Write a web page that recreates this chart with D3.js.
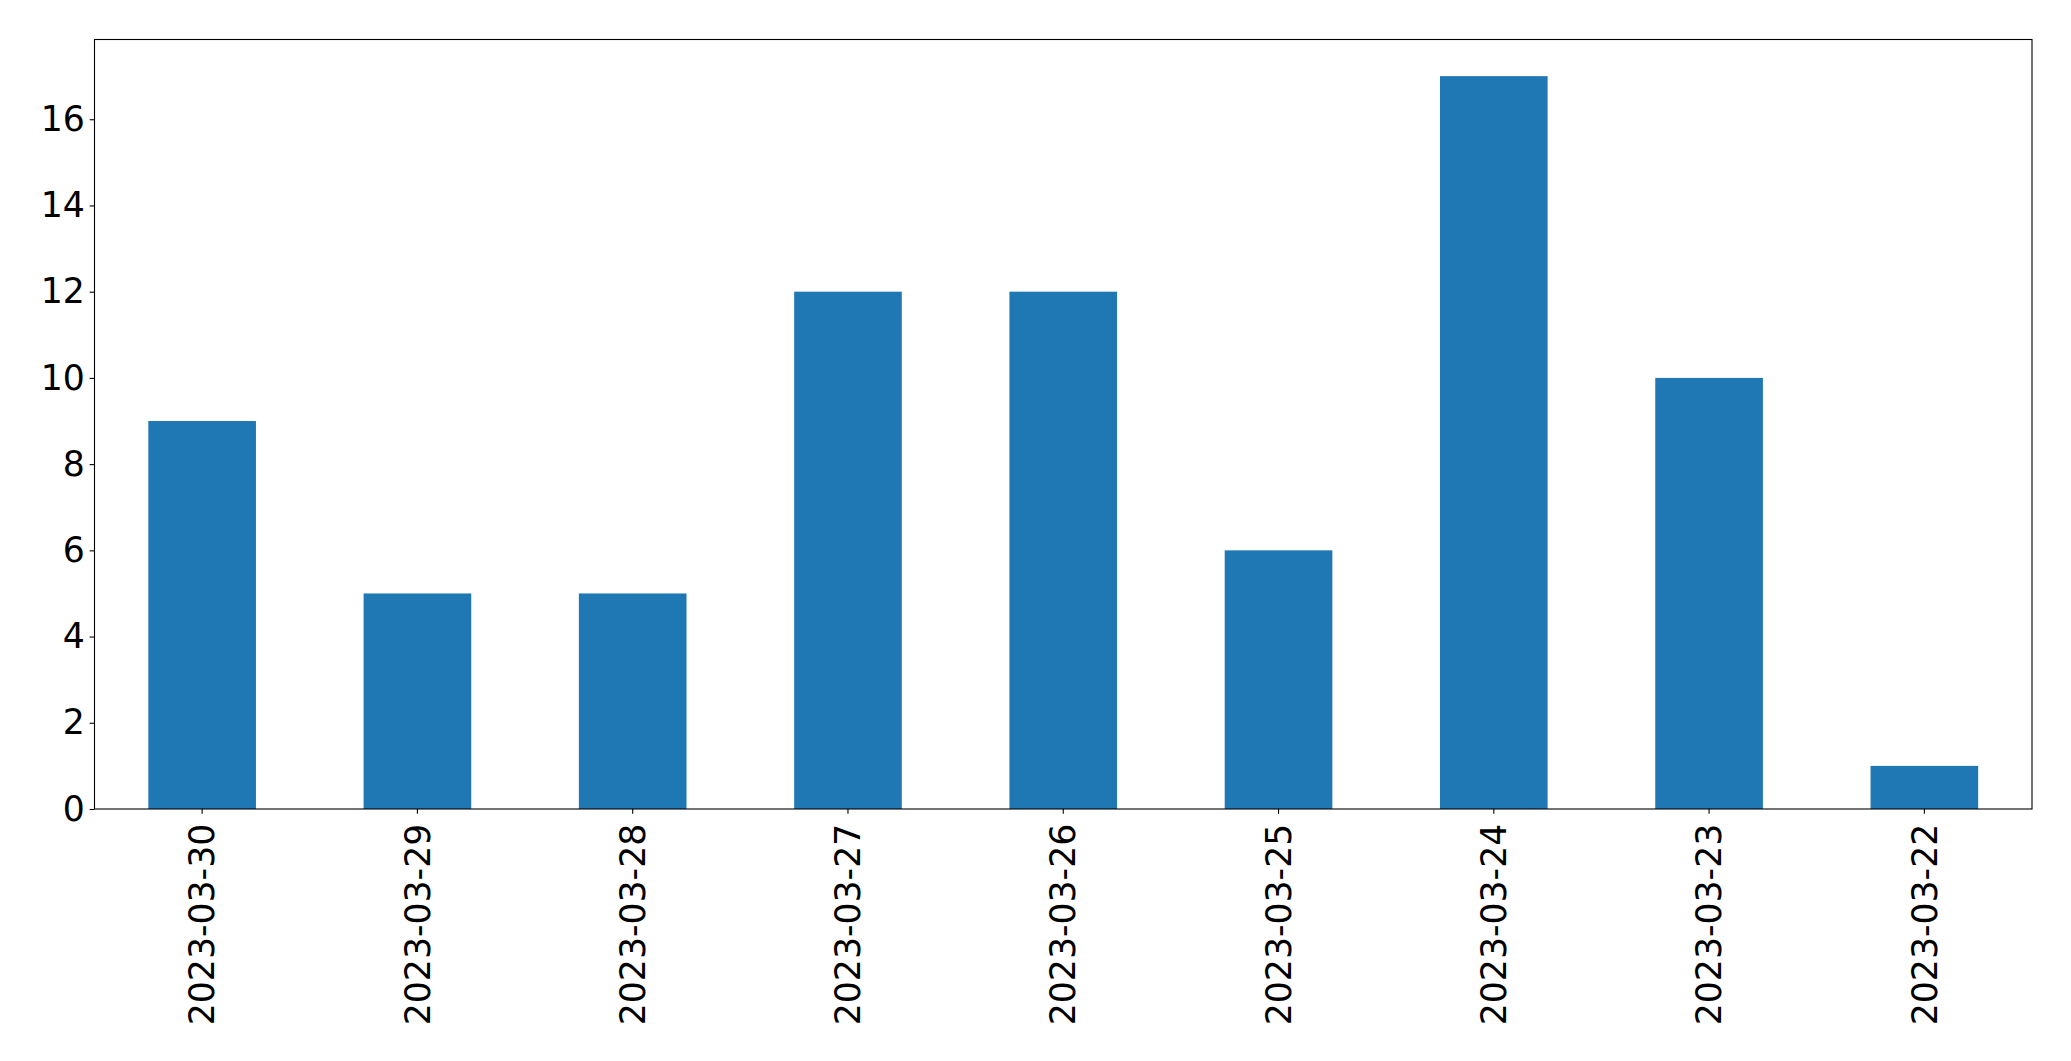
<!DOCTYPE html>
<html>
<head>
<meta charset="utf-8">
<script src="https://cdn.jsdelivr.net/npm/d3@7"></script>
<style>
  body { margin: 0; background: #fff; }
  svg text { font-family: "DejaVu Sans", sans-serif; }
</style>
</head>
<body>
<script>
// data
let dates = ["2023-03-30", "2023-03-29", "2023-03-28", "2023-03-27", "2023-03-26",
             "2023-03-25", "2023-03-24", "2023-03-23", "2023-03-22"];
let counts = [9, 5, 5, 12, 12, 6, 17, 10, 1];
let yTicks = [0, 2, 4, 6, 8, 10, 12, 14, 16];

let width = 2071, height = 1061;
let margin = {top: 39.5, right: 39, bottom: 252, left: 94.5};
let fontSize = 34.7, tickLen = 4.86, pad = 4.86;

let svg = d3.select("body").append("svg")
    .attr("width", width)
    .attr("height", height);

let x = d3.scaleBand()
    .domain(dates)
    .range([margin.left, width - margin.right])
    .paddingInner(0.5)
    .paddingOuter(0.25);

let y = d3.scaleLinear()
    .domain([0, d3.max(counts) * 1.05])
    .range([height - margin.bottom, margin.top]);

// bars
svg.selectAll("rect.bar")
    .data(counts)
    .enter()
    .append("rect")
    .attr("class", "bar")
    .attr("x", (d, i) => x(dates[i]))
    .attr("width", x.bandwidth())
    .attr("y", d => y(d))
    .attr("height", d => y(0) - y(d))
    .style("fill", "#1f77b4");

// y axis
let yAxis = svg.append("g")
    .attr("transform", `translate(${margin.left},0)`)
    .call(d3.axisLeft(y).tickValues(yTicks).tickSize(tickLen).tickPadding(pad));
yAxis.select(".domain").remove();
yAxis.selectAll("text").style("font-size", fontSize + "px").attr("fill", "#000");
yAxis.selectAll("line").attr("stroke", "#000").attr("stroke-width", 1.1);

// x axis
let xAxis = svg.append("g")
    .attr("transform", `translate(0,${height - margin.bottom})`)
    .call(d3.axisBottom(x).tickSize(tickLen).tickPadding(pad));
xAxis.select(".domain").remove();
xAxis.selectAll("line").attr("stroke", "#000").attr("stroke-width", 1.1);
xAxis.selectAll("text")
    .style("font-size", fontSize + "px")
    .attr("fill", "#000")
    .attr("text-anchor", "end")
    .attr("dy", "0.35em")
    .attr("y", 0)
    .attr("transform", `translate(0,${tickLen + pad + 5}) rotate(-90)`);

// frame
svg.append("rect")
    .attr("x", margin.left)
    .attr("y", margin.top)
    .attr("width", width - margin.left - margin.right)
    .attr("height", height - margin.top - margin.bottom)
    .style("fill", "none")
    .style("stroke", "#000")
    .style("stroke-width", 1.1);
</script>
</body>
</html>
